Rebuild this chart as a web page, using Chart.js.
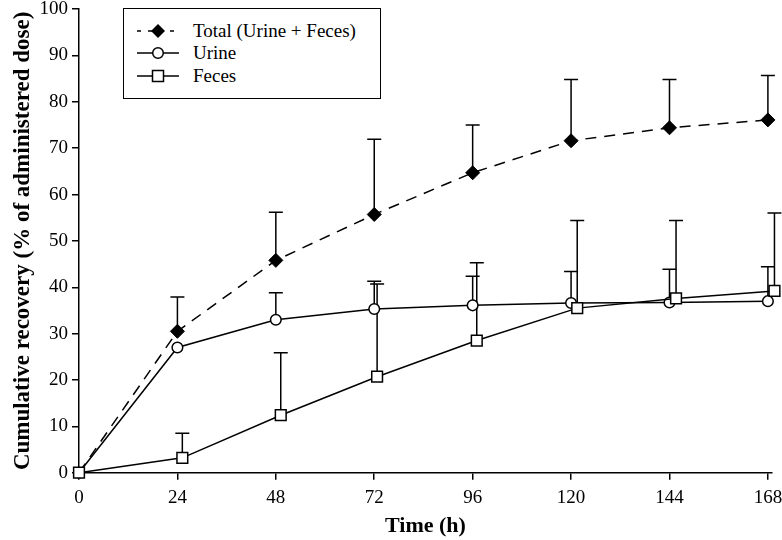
<!DOCTYPE html>
<html>
<head>
<meta charset="utf-8">
<script src="https://cdn.jsdelivr.net/npm/chart.js@4.4.1/dist/chart.umd.min.js"></script>
<style>
  body { margin: 0; background: #fff; }
  #wrap { position: relative; width: 782px; height: 540px; }
  #legend {
    position: absolute; left: 123px; top: 8px; width: 256px; height: 89px;
    border: 1.5px solid #000; background: #fff;
    font-family: "Liberation Serif", "Times New Roman", serif; font-size: 19px; color: #000;
  }
  .row { position: absolute; left: 0; height: 22px; line-height: 22px; }
  .row svg { position: absolute; left: 11px; top: 0; }
  .row span { position: absolute; left: 69px; white-space: nowrap; }
</style>
</head>
<body>
<div id="wrap">
  <canvas id="recoveryChart" width="782" height="540"></canvas>
  <div id="legend">
    <div class="row" style="top:11px">
      <svg width="46" height="22"><line x1="2" y1="11" x2="44" y2="11" stroke="#000" stroke-width="1.5" stroke-dasharray="4 7"/><polygon points="23,4 30,11 23,18 16,11" fill="#000"/></svg>
      <span>Total (Urine + Feces)</span>
    </div>
    <div class="row" style="top:33px">
      <svg width="46" height="22"><line x1="2" y1="11" x2="44" y2="11" stroke="#000" stroke-width="1.5"/><circle cx="23" cy="11" r="5.3" fill="#fff" stroke="#000" stroke-width="1.5"/></svg>
      <span>Urine</span>
    </div>
    <div class="row" style="top:56px">
      <svg width="46" height="22"><line x1="2" y1="11" x2="44" y2="11" stroke="#000" stroke-width="1.5"/><rect x="17.5" y="5.5" width="11" height="11" fill="#fff" stroke="#000" stroke-width="1.5"/></svg>
      <span>Feces</span>
    </div>
  </div>
</div>
<script>
// time points (h)
const hours = [0, 24, 48, 72, 96, 120, 144, 168];
// feces markers sit slightly right of the tick in the figure
const fecesHours = [0, 25.2, 49.2, 72.7, 97, 121.5, 145.6, 169.6];
const xTicks = [0, 24, 48, 72, 96, 120, 144, 168];
const yTicks = [0, 10, 20, 30, 40, 50, 60, 70, 80, 90, 100];

// cumulative recovery (% of dose) and upper SD
const totalMean = [0, 30.5, 45.8, 55.7, 64.7, 71.6, 74.4, 76.1];
const totalSD = [null, 7.4, 10.4, 16.2, 10.3, 13.2, 10.4, 9.6];
const urineMean = [0, 27.0, 33.0, 35.3, 36.1, 36.6, 36.7, 37.0];
const urineSD = [null, null, 5.8, 6.0, 6.3, 6.8, 7.2, 7.4];
const fecesMean = [0, 3.2, 12.4, 20.7, 28.5, 35.5, 37.6, 39.2];
const fecesSD = [null, 5.3, 13.5, 20.0, 16.8, 18.9, 16.8, 16.8];

const FONT = "'Liberation Serif', 'Times New Roman', serif";

const toPoints = (xs, ys) => xs.map((x, i) => ({ x: x, y: ys[i] }));

// upward-only error bars with caps
const errorBars = {
  id: "errorBars",
  beforeDatasetsDraw(chart) {
    const { ctx, scales } = chart;
    ctx.save();
    ctx.strokeStyle = "#000";
    ctx.lineWidth = 1.5;
    chart.data.datasets.forEach((ds) => {
      if (!ds.sd) return;
      ds.data.forEach((p, i) => {
        const sd = ds.sd[i];
        if (sd == null) return;
        const x = scales.x.getPixelForValue(p.x);
        const y0 = scales.y.getPixelForValue(p.y);
        const y1 = scales.y.getPixelForValue(p.y + sd);
        ctx.beginPath();
        ctx.moveTo(x, y0);
        ctx.lineTo(x, y1);
        ctx.moveTo(x - 7, y1);
        ctx.lineTo(x + 7, y1);
        ctx.stroke();
      });
    });
    ctx.restore();
  },
};

const ctx = document.getElementById("recoveryChart").getContext("2d");
new Chart(ctx, {
  type: "line",
  data: {
    datasets: [
      {
        label: "Total (Urine + Feces)",
        data: toPoints(hours, totalMean),
        sd: totalSD,
        borderColor: "#000",
        borderWidth: 1.5,
        borderDash: [11, 8],
        pointStyle: "rectRot",
        pointRadius: (c) => (c.dataIndex === 0 ? 0 : 7),
        pointBackgroundColor: "#000",
        pointBorderColor: "#000",
        pointBorderWidth: 1,
        order: 2,
      },
      {
        label: "Urine",
        data: toPoints(hours, urineMean),
        sd: urineSD,
        borderColor: "#000",
        borderWidth: 1.5,
        pointStyle: "circle",
        pointRadius: 5.3,
        pointBackgroundColor: "#fff",
        pointBorderColor: "#000",
        pointBorderWidth: 1.5,
        order: 1,
      },
      {
        label: "Feces",
        data: toPoints(fecesHours, fecesMean),
        sd: fecesSD,
        borderColor: "#000",
        borderWidth: 1.5,
        pointStyle: "rect",
        pointRadius: 7.6,
        pointBackgroundColor: "#fff",
        pointBorderColor: "#000",
        pointBorderWidth: 1.5,
        order: 0,
      },
    ],
  },
  options: {
    responsive: false,
    animation: false,
    devicePixelRatio: 1,
    clip: false,
    layout: { padding: { top: 7, right: 10, left: 0, bottom: 0 } },
    plugins: { legend: { display: false }, tooltip: { enabled: false } },
    elements: { line: { tension: 0 } },
    scales: {
      x: {
        type: "linear",
        min: 0,
        max: 169,
        afterBuildTicks: (s) => { s.ticks = xTicks.map((v) => ({ value: v })); },
        afterFit: (s) => { s.height = 67.3; s.paddingLeft = 0; s.paddingRight = 0; },
        grid: { drawOnChartArea: false, color: "#000", lineWidth: 1.5, tickLength: 7 },
        border: { color: "#000", width: 1.5 },
        ticks: { color: "#000", padding: 7, maxRotation: 0, font: { family: FONT, size: 19 } },
        title: {
          display: true,
          text: "Time (h)",
          color: "#000",
          padding: { top: 0, bottom: 0 },
          font: { family: FONT, size: 22, weight: "bold" },
        },
      },
      y: {
        min: 0,
        max: 100,
        afterBuildTicks: (s) => { s.ticks = yTicks.map((v) => ({ value: v })); },
        afterFit: (s) => { s.width = 79; s.paddingTop = 0; s.paddingBottom = 0; },
        grid: { drawOnChartArea: false, color: "#000", lineWidth: 1.5, tickLength: 7 },
        border: { color: "#000", width: 1.5 },
        ticks: { color: "#000", padding: 4, font: { family: FONT, size: 19 } },
        title: {
          display: true,
          text: "Cumulative recovery (% of administered dose)",
          color: "#000",
          padding: { top: 9, bottom: 0 },
          font: { family: FONT, size: 23, weight: "bold" },
        },
      },
    },
  },
  plugins: [errorBars],
});
</script>
</body>
</html>
